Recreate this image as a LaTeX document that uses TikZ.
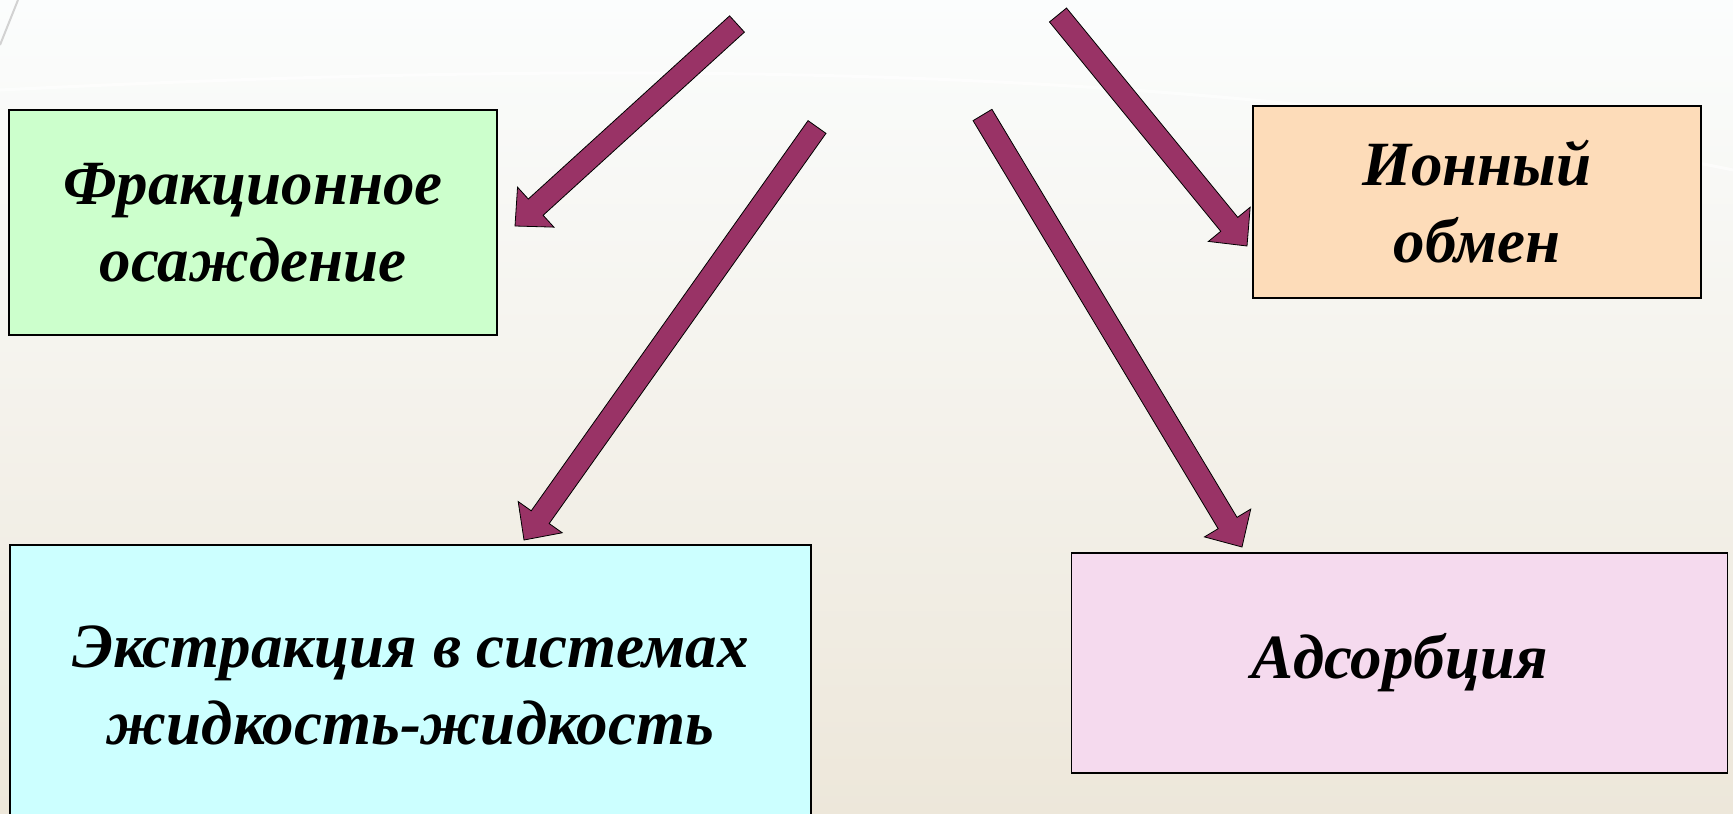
\documentclass[tikz,border=0pt]{standalone}
\usepackage{fontspec}
\setmainfont{Liberation Serif}
\usetikzlibrary{calc}
\definecolor{arrowfill}{HTML}{993366}
\definecolor{boxgreen}{HTML}{CCFFCC}
\definecolor{boxorange}{HTML}{FDDCB9}
\definecolor{boxcyan}{HTML}{CCFFFF}
\definecolor{boxpink}{HTML}{F5DAEE}
\definecolor{bgtop}{HTML}{FBFDFD}
\definecolor{bgmid}{HTML}{F4F8F3}
\definecolor{bgbot}{HTML}{EDE7DA}
\tikzset{
  box/.style={draw=black, line width=1.5pt, rectangle, inner sep=0pt, align=center,
    font=\fontsize{63}{77}\selectfont\bfseries\itshape},
  lbl/.style={align=center, inner sep=0pt,
    font=\fontsize{63}{77}\selectfont\bfseries\itshape},
  arrowstyle/.style={fill=arrowfill, draw=black, line width=0.8pt, line join=miter}
}
\newcommand\blockarrow[2]{%
  \path coordinate (ba-b) at ($(#2)!28pt!(#1)$);
  \filldraw[arrowstyle] ($(#1)!11pt!90:(#2)$) -- ($(ba-b)!11pt!90:(#2)$)
    -- ($(ba-b)!27pt!90:(#2)$) -- (#2) -- ($(ba-b)!27pt!-90:(#2)$)
    -- ($(ba-b)!11pt!-90:(#2)$) -- ($(#1)!11pt!-90:(#2)$) -- cycle;}
\begin{document}
\begin{tikzpicture}[x=1pt,y=-1pt]
\useasboundingbox (0,0) rectangle (1733,814);
% background
\shade[top color=bgtop, middle color=bgmid, bottom color=bgbot] (0,0) rectangle (1733,814);
\draw[gray!35, line width=2pt] (0,45) .. controls (8,25) .. (18,0);
\draw[white, line width=3pt, opacity=0.6] (0,90) .. controls (600,60) and (1200,60) .. (1733,170);

% boxes
\node[box, fill=boxgreen, minimum width=488, minimum height=225] (frac) at (253,222.5)
  {Фракционное\\осаждение};
\node[box, fill=boxorange, minimum width=448, minimum height=192] (ion) at (1477,202)
  {Ионный\\обмен};
\node[box, fill=boxcyan, minimum width=801, minimum height=300] (ext) at (410.5,695) {};
\node[lbl] (extt) at (410.5,686) {Экстракция в системах\\жидкость-жидкость};
\node[box, fill=boxpink, minimum width=656, minimum height=220] (ads) at (1399.5,663)
  {Адсорбция};

% arrows
\coordinate (t1) at (737,24);    \coordinate (h1) at (515,226);
\coordinate (t2) at (817,127);   \coordinate (h2) at (524,540);
\coordinate (t3) at (1058,15);   \coordinate (h3) at (1247,246);
\coordinate (t4) at (982.5,115); \coordinate (h4) at (1242,547);
\blockarrow{t1}{h1}
\blockarrow{t2}{h2}
\blockarrow{t3}{h3}
\blockarrow{t4}{h4}
\end{tikzpicture}
\end{document}
